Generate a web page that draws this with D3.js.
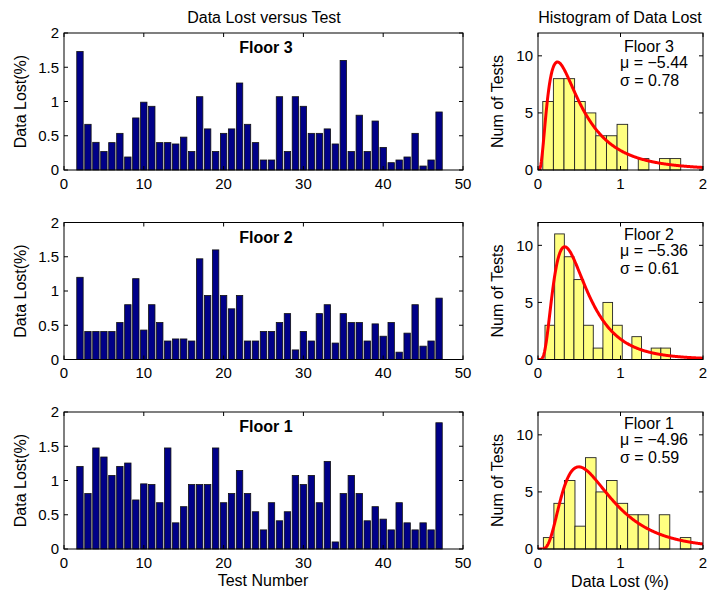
<!DOCTYPE html>
<html><head><meta charset="utf-8">
<script src="https://cdn.jsdelivr.net/npm/d3@7"></script>
<style>
html,body{margin:0;padding:0;background:#fff;}
svg{display:block;font-family:"Liberation Sans",Arial,Helvetica,sans-serif;}
</style></head>
<body>
<script>
// ---------------- DATA ----------------
const floors = ["Floor 3", "Floor 2", "Floor 1"];
const testNumbers = d3.range(2, 48); // tests 2..47
const floor3Loss = [1.73,0.667,0.404,0.27,0.40,0.535,0.19,0.76,0.99,0.93,0.40,0.40,0.38,0.48,0.27,1.07,0.60,0.27,0.535,0.60,1.27,0.667,0.40,0.146,0.146,1.07,0.27,1.07,0.93,0.535,0.535,0.60,0.38,1.60,0.27,0.80,0.27,0.715,0.33,0.107,0.146,0.19,0.535,0.058,0.146,0.847];
const floor2Loss = [1.20,0.409,0.409,0.409,0.409,0.54,0.80,1.18,0.43,0.80,0.54,0.27,0.30,0.30,0.27,1.47,0.935,1.60,0.935,0.74,0.935,0.27,0.27,0.41,0.41,0.54,0.67,0.14,0.41,0.27,0.67,0.80,0.24,0.67,0.54,0.54,0.27,0.52,0.34,0.54,0.107,0.385,0.80,0.195,0.27,0.896];
const floor1Loss = [1.206,0.81,1.475,1.343,1.074,1.206,1.255,0.716,0.951,0.941,0.676,1.475,0.382,0.618,0.941,0.941,0.941,1.475,0.676,0.81,1.147,0.81,0.544,0.279,0.676,0.412,0.544,1.074,0.941,1.074,0.676,1.279,0.103,0.81,1.074,0.81,0.412,0.618,0.436,0.279,0.676,0.382,0.279,0.382,0.279,1.843];
const lossSeries = [floor3Loss, floor2Loss, floor1Loss];

// histogram counts, with bin start and bin width (in %)
const floor3Counts = [6,8,8,6,5,3,3,4,0,1,0,1,1];
const floor2Counts = [3,11,9,7,3,1,5,3,0,2,0,1,1];
const floor1Counts = [1,4,6,2,8,5,6,4,3,3,0,3,0,1];
const histCounts = [floor3Counts, floor2Counts, floor1Counts];
const binStart = [0.058, 0.085, 0.065];
const binWidth = [0.1286, 0.117, 0.1277];

// lognormal fit parameters shown in the chart (log of fraction)
const mu = [-5.44, -5.36, -4.96];
const sigma = [0.78, 0.61, 0.59];
// area of the fitted curve (count x width)
const curveArea = [5.92, 5.89, 6.27];

const barXTicks = [0,10,20,30,40,50];
const barYTicks = [0,0.5,1,1.5,2];
const histXTicks = [0,1,2];
const histYTicks = [0,5,10];

// ---------------- LAYOUT ----------------
const W = 708, H = 593;
const panelTops = [33, 222.5, 412];
const panelH = 137;
const barL = 64, barR = 463;
const histL = 538, histR = 703;
const FS = 15;     // tick labels
const LS = 16;     // labels, titles, annotations
const tickLen = 4;

const svg = d3.select("body").append("svg").attr("width", W).attr("height", H);
const defs = svg.append("defs");

function drawFrame(g, x, y, xTicks, yTicks, x0, x1, y0, y1) {
  xTicks.forEach(t => {
    const px = x(t);
    g.append("line").attr("x1", px).attr("x2", px).attr("y1", y1).attr("y2", y1 - tickLen).attr("stroke", "#000");
    g.append("line").attr("x1", px).attr("x2", px).attr("y1", y0).attr("y2", y0 + tickLen).attr("stroke", "#000");
  });
  yTicks.forEach(t => {
    const py = y(t);
    g.append("line").attr("x1", x0).attr("x2", x0 + tickLen).attr("y1", py).attr("y2", py).attr("stroke", "#000");
    g.append("line").attr("x1", x1).attr("x2", x1 - tickLen).attr("y1", py).attr("y2", py).attr("stroke", "#000");
  });
  g.append("rect").attr("x", x0).attr("y", y0).attr("width", x1 - x0).attr("height", y1 - y0)
    .attr("fill", "none").attr("stroke", "#000").attr("stroke-width", 1);
  xTicks.forEach(t => {
    g.append("text").attr("x", x(t)).attr("y", y1 + 18.5).attr("text-anchor", "middle")
      .attr("font-size", FS).text(t);
  });
  yTicks.forEach(t => {
    g.append("text").attr("x", x0 - 5).attr("y", y(t) + 5.4).attr("text-anchor", "end")
      .attr("font-size", FS).text(t);
  });
}

panelTops.forEach((top, i) => {
  const bottom = top + panelH;

  // ---------- bar chart ----------
  const xb = d3.scaleLinear().domain([0, 50]).range([barL, barR]);
  const yb = d3.scaleLinear().domain([0, 2]).range([bottom, top]);
  const gb = svg.append("g");
  const bw = (xb(0.8) - xb(0));
  gb.selectAll("rect.bar").data(lossSeries[i]).enter().append("rect")
    .attr("class", "bar")
    .attr("x", (d, k) => xb(testNumbers[k]) - bw / 2)
    .attr("y", d => yb(d))
    .attr("width", bw)
    .attr("height", d => yb(0) - yb(d))
    .attr("fill", "#000088").attr("stroke", "#111").attr("stroke-width", 0.8);
  drawFrame(gb, xb, yb, barXTicks, barYTicks, barL, barR, top, bottom);
  gb.append("text").attr("x", 266).attr("y", top + 20).attr("text-anchor", "middle")
    .attr("font-size", LS).attr("font-weight", "bold").text(floors[i]);
  gb.append("text").attr("transform", `translate(26,${top + panelH / 2}) rotate(-90)`)
    .attr("text-anchor", "middle").attr("font-size", LS).text("Data Lost(%)");

  // ---------- histogram ----------
  const xh = d3.scaleLinear().domain([0, 2]).range([histL, histR]);
  const yh = d3.scaleLinear().domain([0, 12]).range([bottom, top]);
  const gh = svg.append("g");
  const clipId = "clip" + i;
  defs.append("clipPath").attr("id", clipId).append("rect")
    .attr("x", histL).attr("y", top).attr("width", histR - histL).attr("height", panelH);
  const bins = histCounts[i].map((c, k) => ({c, x0: binStart[i] + k * binWidth[i], x1: binStart[i] + (k + 1) * binWidth[i]}));
  gh.selectAll("rect.hb").data(bins).enter().append("rect")
    .attr("class", "hb")
    .attr("x", d => xh(d.x0)).attr("y", d => yh(d.c))
    .attr("width", d => xh(d.x1) - xh(d.x0))
    .attr("height", d => yh(0) - yh(d.c))
    .attr("fill", "#ffff80").attr("stroke", "#222").attr("stroke-width", 0.9);

  // fitted lognormal density (percent units)
  const m = mu[i] + Math.log(100), s = sigma[i];
  const pdf = x => x <= 0 ? 0 : Math.exp(-Math.pow(Math.log(x) - m, 2) / (2 * s * s)) / (x * s * Math.sqrt(2 * Math.PI));
  const xs = d3.range(0, 2.0001, 0.005);
  const line = d3.line().x(d => xh(d)).y(d => yh(curveArea[i] * pdf(d)));
  gh.append("path").datum(xs).attr("d", line).attr("fill", "none")
    .attr("stroke", "#ff0000").attr("stroke-width", 3).attr("clip-path", `url(#${clipId})`);

  drawFrame(gh, xh, yh, histXTicks, histYTicks, histL, histR, top, bottom);
  gh.append("text").attr("transform", `translate(503,${top + panelH / 2}) rotate(-90)`)
    .attr("text-anchor", "middle").attr("font-size", LS).text("Num of Tests");

  const tx = histL + 86;
  const dy = (i === 0 ? 2 : 0);
  gh.append("text").attr("x", tx).attr("y", top + 17 + dy).attr("font-size", LS).text(floors[i]);
  gh.append("text").attr("x", tx - 4).attr("y", top + 33 + dy).attr("font-size", LS)
    .text("\u03bc = \u2212" + Math.abs(mu[i]).toFixed(2));
  gh.append("text").attr("x", tx - 4).attr("y", top + 51 + dy).attr("font-size", LS)
    .text("\u03c3 = " + sigma[i].toFixed(2));
});

// titles and x labels
svg.append("text").attr("x", 264).attr("y", 23).attr("text-anchor", "middle").attr("font-size", LS).text("Data Lost versus Test");
svg.append("text").attr("x", 620).attr("y", 23).attr("text-anchor", "middle").attr("font-size", LS).text("Histogram of Data Lost");
svg.append("text").attr("x", 263).attr("y", 586).attr("text-anchor", "middle").attr("font-size", LS).text("Test Number");
svg.append("text").attr("x", 620).attr("y", 587).attr("text-anchor", "middle").attr("font-size", LS).text("Data Lost (%)");
</script>
</body></html>
